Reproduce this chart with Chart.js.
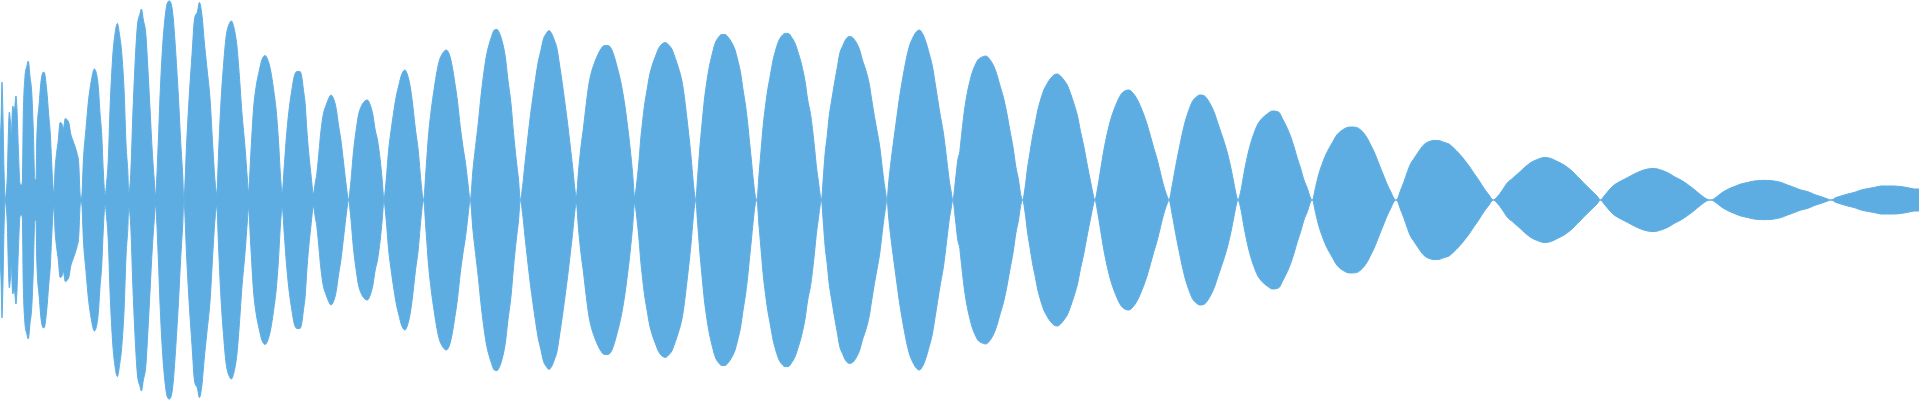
<!DOCTYPE html>
<html>
<head>
<meta charset="utf-8">
<script src="https://cdn.jsdelivr.net/npm/chart.js@4/dist/chart.umd.min.js"></script>
<style>
html,body{margin:0;padding:0;background:#ffffff;}
#wrap{width:1920px;height:400px;position:relative;}
</style>
</head>
<body>
<div id="wrap"><canvas id="c"></canvas></div>
<script>
// Waveform envelope: [sample position, amplitude %]
const section1 = [[0,31],[1,39],[2,59],[3,41],[4,15],[5.3,0],[6,2.5],[7.3,12],[8.3,32],[9.3,44],[10.3,40],[11.3,32.5],[12.7,47],[14.3,45],[16,52],[17,45],[18.3,26],[20,8.3],[21.3,7.5],[22.3,9],[23.3,43],[25,62],[26.7,66.7],[28.3,69.5],[30,61.7],[31.7,54],[33.3,35],[34.7,10.8],[36,10],[36.7,29],[39.3,49],[41.3,60.5],[44,64],[46.7,55],[48.7,42.5],[50.3,33],[51.7,18],[52.7,8.7],[54,3],[55,15],[56.7,24],[58.3,30],[60,38.7],[61.7,38.3],[63.3,35.8],[65.3,40.8],[67.3,40],[69,38.3],[70.7,33],[72.7,30],[75,26.7],[77,23.3],[78.7,18.3],[80,3.3],[81,1],[82,3.3],[83.3,19.5],[86,35.8],[88.3,49],[91.7,60.8],[94.3,65.5],[96.7,62.5],[98.3,56.3],[100,43.3],[101.7,32.5],[103.3,14],[105,2.5],[106.7,9.5],[108.3,21],[110,46],[112.7,72],[115,83.3],[117.3,88.3],[119.3,83.3],[121.7,73.3],[124,55],[126,27.5],[127.7,15],[128.7,4],[130.7,13.3],[132.7,41.7],[135,68.3],[137.3,87],[140,93.3],[141.3,95.5],[143.3,90],[145.7,83.3],[147.7,66.7],[150,45],[152.3,23.3],[154.3,9],[155.3,2.5],[158.3,30],[160,52.5],[162.3,75],[164.7,90],[166.7,97.5],[169.3,99.5],[171.7,96.7],[173.3,90],[175.7,73.3],[178.3,51.7],[180.7,28.3],[182.7,11.7],[183.7,0],[186.7,30.3],[189.3,53.3],[192,73.3],[194.3,90],[197.3,94],[199.3,98.8],[202,91.7],[204,80],[206.7,66.7],[210,50],[212.7,26.7],[215,9],[216.7,3.3],[218.3,21.7],[220.7,47.5],[223.3,66.7],[226,81.7],[228.7,87.5],[231.3,89.5],[234,85.8],[236.7,77.5],[239.3,61.7],[241.7,44.2],[245,25.8],[247.3,10],[248.3,4],[250.7,23.3],[253.3,45],[256,56.7],[259.3,65],[261.7,70],[265,72.2],[268.3,69.2],[270.7,64.2],[273.3,55.8],[276,45],[278.3,30],[280.3,12.5],[282,3.7],[284.3,18.3],[286.7,34.2],[289.3,46.7],[291.7,55],[294,61.7],[296.7,64.2],[300,64.2],[301.7,61.3],[303.3,55],[305,48.3],[306.7,35],[308.3,25],[310.7,13.3],[313.3,3.3],[315,8.3],[316.7,13.3],[319.3,26.7]];
const section2 = [[320,30.8],[321.7,38.3],[323.3,43.3],[326,47.5],[328.3,50.5],[330.7,52.5],[333.3,50.8],[336,45.8],[338.3,37.5],[340.7,30],[342.7,21.7],[345,11.7],[347.3,2.5],[348.3,0],[350.7,9.2],[353.3,24.2],[356,35],[358.3,42.5],[361,46.7],[364,49.2],[367.3,50],[370,47.5],[372.7,42.5],[375,35],[377.3,30],[380,20],[382,10],[383.7,0.8],[386,10],[388.3,24.2],[390.7,34.2],[393.3,43.3],[396,51.7],[398.7,57.5],[401.3,62.5],[404.7,65],[407.3,62.5],[410,56.7],[412.7,46.7],[415.3,35],[418,25],[420,13.3],[422,3.3],[423.3,0],[426,16.7],[428.3,32.5],[431,45],[434,55.8],[436.7,64.2],[439.3,70],[442,73],[446,75],[449.3,72.5],[452,66.7],[454.7,58.3],[457.3,49.2],[460,36.7],[462.7,26.7],[465.3,18.3],[467.7,8.3],[470,0],[472.7,15],[475.3,26.7],[478,38.3],[480.7,51.7],[483.3,62.5],[486,71.7],[488.7,77.5],[491.3,81.7],[494,85],[496.7,85.3],[499.3,83.3],[502,79.2],[505,71.7],[507.7,60],[510.7,48.3],[513.3,33.3],[516,20],[518.3,10],[520,0],[522.3,6.7],[524.7,18.3],[527.3,30],[530,41.7],[532.7,51.7],[535.3,60.8],[538,69.2],[540.7,75],[543.3,80.8],[546,83.3],[548.7,84.7],[551.3,83.3],[554,80],[556.7,75.8],[559.3,67.5],[562,58.3],[564.7,48.3],[567.3,38.3],[570,26.7],[572.3,16.7],[574.3,6.7],[576,1.7],[578.3,15],[580.7,26.7],[583.3,36.7],[586,48.3],[588.7,58.3],[591.3,64.2],[594,68.3],[596.7,71.7],[600,75],[604,77.2],[608,77.2],[611.3,75.3],[614,71.7],[616.7,66.7],[619.3,61.7],[622,55],[624.7,46.7],[627.3,36.7],[630,25],[632.3,13.3],[634.3,1.7],[636.7,10],[639.3,23.3]];
const section3 = [[640,28.3],[641.7,36.7],[644,46.7],[646.7,55],[649.3,62.5],[652,67.5],[655,71.7],[658.3,75.8],[661.7,78],[665,78.7],[668.3,77.5],[671.7,75.3],[675,70.8],[678.3,65.8],[681.7,59.2],[684,51.7],[686,43.3],[688.3,33.3],[690.7,21.7],[692.7,10],[694.3,2.5],[695.3,0],[697.3,11.7],[699.3,25],[701.7,38.3],[704,50],[706.7,60],[709.3,67.5],[712,73.3],[714.7,78.3],[718,81.3],[721.3,82.7],[724.7,82.7],[728,81.3],[731.3,78.7],[734.7,75],[737.3,70],[740,64.2],[742.7,55],[745.3,46.7],[747.3,38.3],[749.3,28.3],[751.3,18.3],[753.3,8.3],[755,1.7],[756.5,0],[758.7,13.3],[760.7,25],[762.7,36.7],[765,46.7],[767.3,55],[770,62.5],[772.7,70],[775.3,75],[778,79.2],[781.3,82],[784.7,83.3],[788,83.3],[791.3,81.3],[794.7,78.3],[798,73.3],[801.3,67.5],[804.7,59.2],[807.3,50],[810,43.3],[812,35.8],[814,26.7],[816,16.7],[818,9.2],[820,1.7],[821,0],[822.7,10],[824.7,23.3],[826.7,31.7],[828.7,41.7],[831.3,50],[834,58.3],[836.7,65.8],[839.3,73.3],[842,76.7],[845.3,80.3],[848.7,81.7],[852,81.3],[855.3,79.2],[858.7,75.8],[862,70],[865.3,65],[868.7,58.3],[871.3,50],[874,41.7],[876.7,34.2],[879.3,26.7],[881.3,18.3],[883.3,10],[885.3,3.3],[886.5,0],[888.3,9.2],[890.7,20],[893.3,30],[896,40],[898.7,50],[901.3,58.3],[904,65.8],[906.7,72.5],[909.3,77.5],[912,80.8],[915.3,83.7],[918.7,85],[922,83.3],[925.3,79.2],[928.7,73.3],[932,66.7],[934.7,58.3],[937.3,50],[940,41.7],[942.7,34.2],[944.7,26.7],[946.7,18.3],[948.7,10],[950.7,4.2],[952.3,0],[955,10],[957.3,20],[959.3,24.2]];
const section4 = [[960,27.5],[962,36.7],[964,45],[966.7,53.3],[969.3,59.2],[972,64.2],[974.7,67.5],[977.3,70],[980.7,71.3],[985.3,72],[989.3,70.3],[992.7,67.5],[996,63.3],[999.3,57.5],[1002.7,51.7],[1006,44.2],[1009.3,35],[1012.7,25.8],[1015.3,16.7],[1018,10],[1020,3.3],[1022,0],[1024.7,6.7],[1026.7,15],[1029.3,23.3],[1032,31.7],[1034.7,38.3],[1037.3,45],[1040,50],[1043.3,55],[1046.7,58.3],[1050,60.8],[1053.3,62.5],[1056.7,63],[1060,62],[1063.3,60],[1066.7,57.5],[1070,53.3],[1073.3,48.3],[1076.7,42.5],[1080,34.2],[1083.3,26.7],[1086.7,17.5],[1090,9.2],[1092.7,2.5],[1094.3,0],[1097.3,6.7],[1100,15],[1103.3,25],[1106.7,33.3],[1110,40],[1113.3,45],[1116.7,49.2],[1120,52.5],[1124,54.5],[1128.3,55],[1132.7,53.3],[1136.7,50.3],[1140,46.7],[1143.3,42.5],[1146.7,37.5],[1150,31.7],[1153.3,25.8],[1156.7,20],[1160,13.3],[1163.3,6.7],[1166.7,1.7],[1168.3,0],[1171.7,7.5],[1175,16.7],[1178.3,25],[1181.7,33.3],[1185,40],[1188.3,45],[1191.7,49.2],[1195,51.2],[1199.3,52.5],[1203.3,52.2],[1207.3,50],[1210.7,47],[1214,43.3],[1217.3,38.3],[1220.7,33.3],[1224,28.3],[1227.3,22.5],[1230.7,15],[1233.3,8.3],[1236,1.7],[1237.3,0],[1240.7,5.8],[1243.3,13.3],[1246.7,21.7],[1250,28.3],[1253.3,33.3],[1256.7,37.5],[1260,40],[1263.3,41.7],[1267.3,43.3],[1271.7,44.5],[1276.7,44.2],[1279.3,43.3]];
const section5 = [[1280,42.5],[1283.3,39.2],[1286.7,35.8],[1290,31.7],[1293.3,26.7],[1296.7,20.8],[1300,15.8],[1303.3,10],[1306.7,5.8],[1310,0.8],[1311.7,0],[1315,6.7],[1318.3,13.3],[1321.7,18.3],[1325,22.5],[1328.3,25.8],[1331.7,28.7],[1335,31.7],[1338.3,33.7],[1341.7,35],[1346,36.2],[1350.7,36.5],[1356,36.3],[1360,35],[1363.3,33.3],[1366.7,30.8],[1370,27.5],[1373.3,24.2],[1376.7,20],[1380,15.8],[1383.3,11.7],[1386.7,7.5],[1390,4.2],[1393.3,0.8],[1395.7,0],[1400,5],[1403.3,9.2],[1406.7,14.2],[1410,18.3],[1413.3,20.8],[1416.7,23.3],[1420,25.8],[1424,28],[1428.3,29.2],[1433.3,29.8],[1438.3,29.7],[1443.3,28.8],[1448.3,28],[1453.3,25.8],[1458.3,23.3],[1463.3,20.3],[1468.3,17],[1473.3,13.3],[1478.3,9.7],[1483.3,5.8],[1488.3,2.5],[1492.3,0],[1496.7,1.7],[1501.7,5],[1506.7,8.7],[1511.7,10.8],[1516.7,13],[1521.7,15.3],[1526.7,17.5],[1531.7,19.2],[1536.7,20.3],[1543.3,21.3],[1550,20.8],[1556.7,19.2],[1563.3,17.5],[1570,15],[1576.7,11.7],[1583.3,8.3],[1590,5],[1596.7,1.7],[1599.5,0]];
const section6 = [[1603.3,2],[1608.3,5],[1613.3,7.5],[1620,9.5],[1626.7,11.2],[1633.3,13],[1640,14.5],[1646.7,15.5],[1653.3,15.8],[1660,15],[1666.7,13.7],[1673.3,11.7],[1680,10],[1686.7,7.8],[1693.3,5.3],[1700,2.5],[1706.7,0.3],[1710,0],[1715,1.3],[1720,3.3],[1726.7,5.3],[1733.3,6.7],[1740,8],[1746.7,8.8],[1753.3,9.5],[1760,9.8],[1766.7,9.8],[1773.3,9.5],[1780,8.8],[1786.7,7.5],[1793.3,6.3],[1800,5],[1806.7,4.2],[1813.3,2.8],[1820,1.7],[1826.7,0.5],[1830,0],[1835,1.2],[1840,2],[1846.7,3],[1853.3,3.8],[1860,5],[1866.7,5.7],[1873.3,6.3],[1880,7],[1886.7,7],[1893.3,7],[1900,6.7],[1906.7,6.2],[1913.3,5.5],[1918,5.5]];

const waveColor = '#5DADE2';
const sections = [section1, section2, section3, section4, section5, section6];
const points = [];
sections.forEach(s => s.forEach(([x, v]) => points.push({x: x, y: v})));

new Chart(document.getElementById('c'), {
  type: 'line',
  data: {
    datasets: [
      { data: points, yAxisID: 'y', fill: 'origin', backgroundColor: waveColor, borderColor: waveColor, borderWidth: 1, pointRadius: 0, cubicInterpolationMode: 'monotone' },
      { data: points, yAxisID: 'yMirror', fill: 'origin', backgroundColor: waveColor, borderColor: waveColor, borderWidth: 1, pointRadius: 0, cubicInterpolationMode: 'monotone' }
    ]
  },
  options: {
    responsive: true,
    maintainAspectRatio: false,
    animation: false,
    devicePixelRatio: 1,
    layout: { padding: 0 },
    plugins: { legend: { display: false }, tooltip: { enabled: false } },
    events: [],
    scales: {
      x: { type: 'linear', min: 0, max: 1919, display: false },
      y: { min: -100, max: 100, display: false },
      yMirror: { min: -100, max: 100, reverse: true, display: false }
    }
  }
});
</script>
</body>
</html>
